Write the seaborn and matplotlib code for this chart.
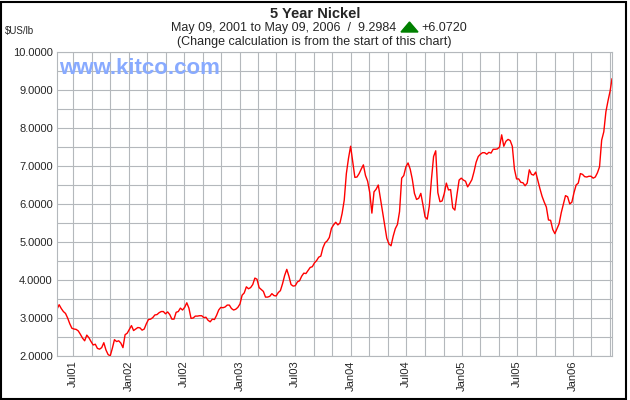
import matplotlib
matplotlib.use("Agg")
import matplotlib.dates as mdates
import matplotlib.pyplot as plt
import pandas as pd
import seaborn as sns
from matplotlib.patches import Polygon, Rectangle
from matplotlib.ticker import FormatStrFormatter, MultipleLocator


# Dane: tygodniowe ceny niklu (USD/lb)
start_date = "2001-05-09"
end_date = "2006-05-09"
last_price = 9.2984
price_change = 6.0720

weekly_prices = [
    3.23, 3.35, 3.25, 3.17, 3.12, 3.00, 2.85, 2.73, 2.71, 2.70,
    2.66, 2.57, 2.47, 2.40, 2.55, 2.48, 2.38, 2.29, 2.31, 2.20,
    2.18, 2.22, 2.35, 2.16, 2.04, 2.00, 2.20, 2.43, 2.38, 2.40,
    2.34, 2.22, 2.56, 2.60, 2.70, 2.80, 2.67, 2.71, 2.75, 2.74,
    2.68, 2.71, 2.85, 2.96, 2.97, 3.01, 3.08, 3.09, 3.14, 3.17,
    3.17, 3.11, 3.16, 3.09, 2.97, 2.97, 3.15, 3.17, 3.26, 3.21,
    3.28, 3.40, 3.26, 2.99, 3.00, 3.05, 3.05, 3.06, 3.06, 3.01,
    3.02, 2.94, 2.90, 2.97, 2.96, 3.07, 3.21, 3.28, 3.27, 3.29,
    3.34, 3.34, 3.25, 3.21, 3.23, 3.28, 3.37, 3.60, 3.66, 3.82,
    3.77, 3.80, 3.88, 4.05, 4.02, 3.80, 3.75, 3.70, 3.55, 3.55,
    3.57, 3.64, 3.59, 3.58, 3.67, 3.72, 3.90, 4.12, 4.28, 4.10,
    3.88, 3.84, 3.85, 3.95, 3.98, 4.10, 4.18, 4.17, 4.25, 4.33,
    4.35, 4.45, 4.51, 4.60, 4.63, 4.85, 4.98, 5.03, 5.12, 5.36,
    5.45, 5.52, 5.45, 5.50, 5.75, 6.10, 6.80, 7.20, 7.52, 7.10,
    6.70, 6.71, 6.80, 6.92, 7.03, 6.75, 6.60, 6.30, 5.76, 6.32,
    6.39, 6.50, 6.15, 5.80, 5.45, 5.10, 4.95, 4.90, 5.15, 5.35,
    5.46, 5.80, 6.68, 6.75, 6.98, 7.08, 6.92, 6.65, 6.28, 6.12,
    6.15, 6.28, 5.98, 5.66, 5.60, 5.95, 6.65, 7.25, 7.40, 6.30,
    6.06, 6.08, 6.27, 6.55, 6.37, 6.38, 5.90, 5.84, 6.25, 6.63,
    6.68, 6.63, 6.60, 6.45, 6.54, 6.64, 6.85, 7.10, 7.25, 7.31,
    7.35, 7.35, 7.31, 7.36, 7.34, 7.44, 7.44, 7.45, 7.50, 7.82,
    7.52, 7.65, 7.70, 7.67, 7.52, 6.92, 6.66, 6.66, 6.57, 6.56,
    6.48, 6.55, 6.90, 6.78, 6.76, 6.84, 6.62, 6.40, 6.20, 6.05,
    5.92, 5.58, 5.57, 5.33, 5.22, 5.35, 5.48, 5.77, 6.00, 6.22,
    6.19, 6.00, 6.05, 6.30, 6.50, 6.55, 6.80, 6.78, 6.72, 6.71,
    6.73, 6.73, 6.68, 6.71, 6.82, 6.98, 7.68, 7.90, 8.43, 8.72,
    8.98,
]

dates = list(pd.date_range(start_date, periods=len(weekly_prices), freq="7D"))
dates.append(pd.Timestamp(end_date))
prices = weekly_prices + [last_price]
df = pd.DataFrame({"date": dates, "price": prices})

grid_color = "#b4b8bc"


# Wykres
sns.set_style("white")
plt.rcParams["font.family"] = ["Liberation Sans", "DejaVu Sans"]

fig = plt.figure(figsize=(6.3, 4.0), dpi=100)
ax = fig.add_axes([57 / 630, 44 / 400, 555 / 630, 304 / 400])

sns.lineplot(data=df, x="date", y="price", color="#ff0000", linewidth=1, ax=ax)

ax.set_xlim(pd.Timestamp(start_date), pd.Timestamp(end_date))
ax.set_ylim(2, 10)
ax.xaxis.set_major_locator(mdates.MonthLocator(bymonth=[1, 7]))
ax.xaxis.set_major_formatter(mdates.DateFormatter("%b%y"))
ax.xaxis.set_minor_locator(mdates.MonthLocator(bymonth=[1, 3, 5, 7, 9, 11]))
ax.yaxis.set_major_locator(MultipleLocator(1))
ax.yaxis.set_major_formatter(FormatStrFormatter("%.4f"))
ax.yaxis.set_minor_locator(MultipleLocator(0.5))

ax.grid(True, which="both", color=grid_color, linewidth=0.8)
ax.set_axisbelow(True)
ax.tick_params(which="both", length=0)
ax.tick_params(axis="x", labelrotation=90, labelsize=8, pad=3)
ax.tick_params(axis="y", labelsize=8, pad=3)
ax.set_xlabel("")
ax.set_ylabel("")
for spine in ax.spines.values():
    spine.set_color(grid_color)
    spine.set_linewidth(0.8)


# Napisy
fig.text(0.5, 0.955, "5 Year Nickel", ha="center", va="baseline",
         fontsize=10.5, fontweight="bold")
fig.text(396 / 630, 0.9225, "May 09, 2001 to May 09, 2006  /  %.4f" % last_price,
         ha="right", va="baseline", fontsize=9)
fig.text(421 / 630, 0.9225, "+%.4f" % price_change, ha="left", va="baseline", fontsize=9)
fig.text(0.499, 0.8875, "(Change calculation is from the start of this chart)",
         ha="center", va="baseline", fontsize=9)
fig.text(5 / 630, 0.914, "$US/lb", ha="left", va="baseline", fontsize=7)
fig.text(59 / 630, 0.815, "www.kitco.com", ha="left", va="baseline",
         fontsize=16, fontweight="bold", color="#88aaff")

# Zielony trojkat przy zmianie ceny
fig.add_artist(Polygon([(401 / 630, 1 - 32 / 400), (418 / 630, 1 - 32 / 400),
                        (409.5 / 630, 1 - 22 / 400)],
                       closed=True, transform=fig.transFigure, color="#008000"))

# Ramka wokol calego obrazka
fig.add_artist(Rectangle((0.8 / 630, 1 / 400), 625 / 630, 397.5 / 400,
                         transform=fig.transFigure, fill=False,
                         edgecolor="black", linewidth=1.5))

fig.savefig("out.png", dpi=100, facecolor="white")
